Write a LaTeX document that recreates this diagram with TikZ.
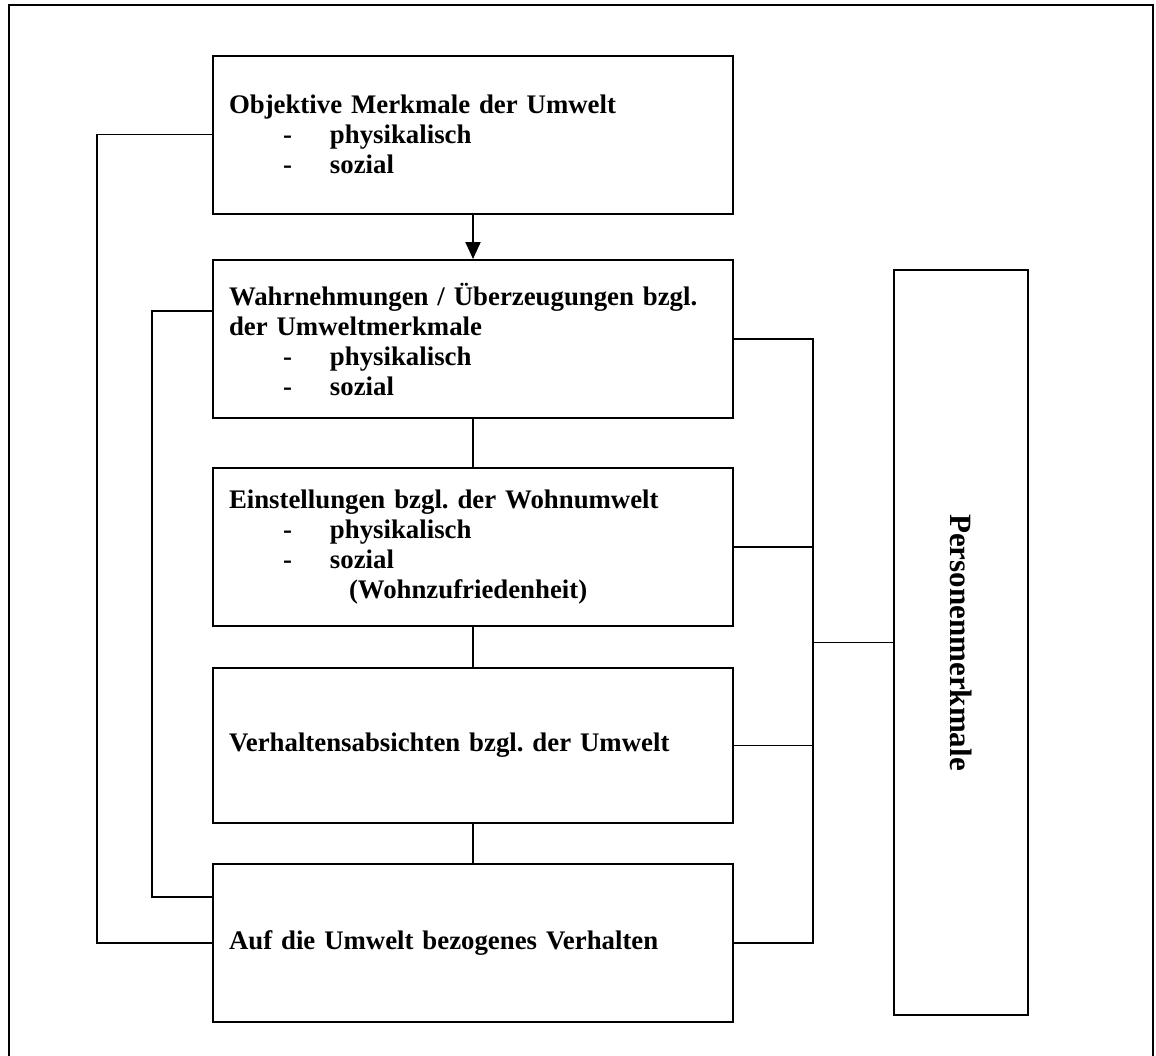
\documentclass[tikz,border=0pt]{standalone}
\usepackage{fontspec}
\setmainfont{Liberation Serif}
\usepackage{tikz}
\usetikzlibrary{positioning, arrows.meta, calc}
\frenchspacing
\newcommand{\merkmal}[1]{\hspace*{27pt}\makebox[23.5pt][l]{-}#1}
\begin{document}
\begin{tikzpicture}[
        x=0.5pt, y=-0.5pt,
        box/.style={rectangle, draw=black, line width=1pt, text width=244pt, inner xsep=8pt,
                    minimum height=79pt, align=left, font=\bfseries\fontsize{13.4}{15}\selectfont},
        sidebox/.style={rectangle, draw=black, line width=1pt, minimum width=67pt, minimum height=372.5pt},
        conn/.style={black, line width=0.8pt},
        pfeil/.style={-{Triangle[length=8.5pt, width=7.5pt]}, black, line width=1pt},
        frame/.style={black, line width=1pt}
        ]
        \useasboundingbox (0,0) rectangle (1156,1055);

        % Outer frame (bottom edge lies below the page)
        \draw[frame] (9,1080) -- (9,5) -- (1153,5) -- (1153,1080);

        % Boxes
        \node[box] (objektiv) at (473,134.5) {Objektive Merkmale der Umwelt\\
            \merkmal{physikalisch}\\
            \merkmal{sozial}};
        \node[box] (wahrn) at (473,339) {Wahrnehmungen / \"Uberzeugungen bzgl.\\
            der Umweltmerkmale\\
            \merkmal{physikalisch}\\
            \merkmal{sozial}};
        \node[box] (einst) at (473,547) {Einstellungen bzgl. der Wohnumwelt\\
            \merkmal{physikalisch}\\
            \merkmal{sozial}\\
            \hspace*{60pt}(Wohnzufriedenheit)};
        \node[box, minimum height=77.5pt] (absicht) at (473,745.5) {Verhaltensabsichten bzgl. der Umwelt};
        \node[box] (verhalten) at (473,943) {Auf die Umwelt bezogenes Verhalten};

        \node[sidebox] (person) at (961,642.5) {};
        \node[rotate=-90, font=\bfseries\fontsize{15.5}{18}\selectfont] (personlabel) at (person.center) {Personenmerkmale};

        % Main chain
        \draw[pfeil] (objektiv) -- (wahrn);
        \draw[conn] (wahrn) -- (einst);
        \draw[conn] (einst) -- (absicht);
        \draw[conn] (absicht) -- (verhalten);

        % Feedback loops on the left
        \draw[conn] (objektiv.west) -- ++(-115,0) |- (verhalten.west);
        \draw[conn] ($(wahrn.west)+(0,-28)$) -- ++(-60,0) |- ($(verhalten.west)+(0,-46)$);

        % Person characteristics on the right
        \coordinate (bus) at (813,642.5);
        \draw[conn] (wahrn.east) -- (wahrn.east -| bus) -- (verhalten.east -| bus) -- (verhalten.east);
        \draw[conn] (einst.east) -- (einst.east -| bus);
        \draw[conn] (absicht.east) -- (absicht.east -| bus);
        \draw[conn] (bus) -- (person.west);

\end{tikzpicture}
\end{document}
